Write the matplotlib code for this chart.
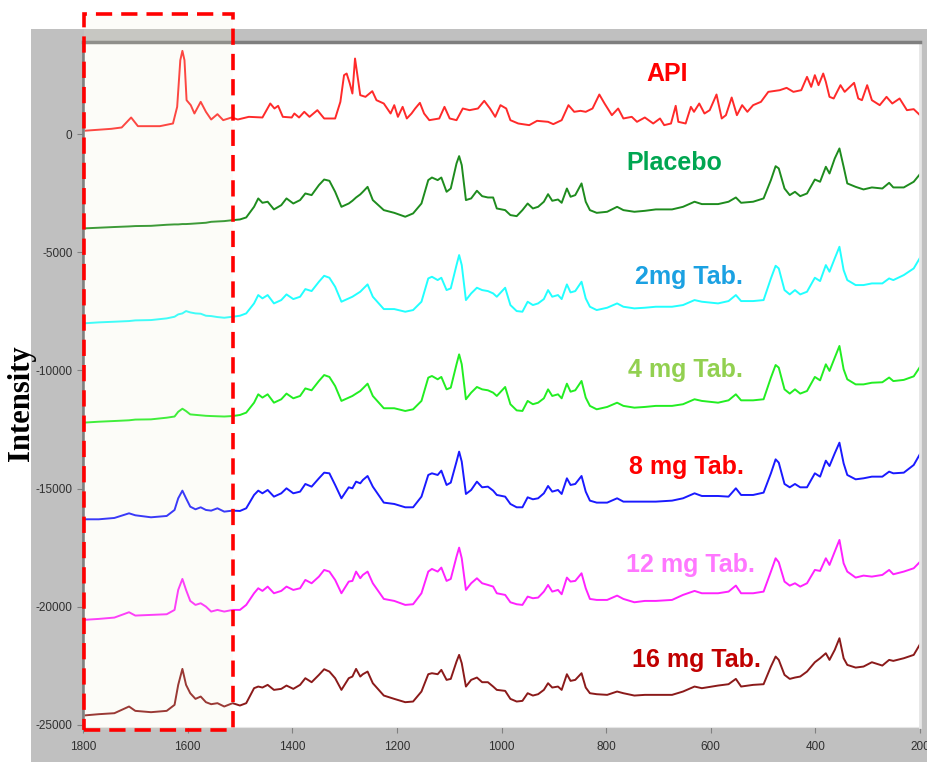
import matplotlib.pyplot as plt
from matplotlib.patches import Rectangle

plt.rcParams["axes.unicode_minus"] = False

# API spectrum (own wavenumber points)
api_wn = [1800, 1746, 1726, 1708, 1695, 1653, 1628, 1620, 1614, 1610,
          1606, 1602, 1594, 1587, 1575, 1565, 1555, 1543, 1532, 1516,
          1504, 1483, 1457, 1442, 1434, 1427, 1418, 1401, 1396, 1387,
          1377, 1367, 1352, 1339, 1318, 1308, 1301, 1296, 1290, 1285,
          1280, 1275, 1270, 1260, 1247, 1239, 1225, 1212, 1205, 1198,
          1189, 1181, 1172, 1165, 1156, 1148, 1138, 1119, 1109, 1099,
          1086, 1074, 1061, 1045, 1033, 1022, 1012, 1002, 991, 983,
          968, 947, 932, 911, 901, 885, 872, 861, 849, 839,
          826, 813, 803, 789, 777, 767, 751, 741, 726, 710,
          697, 689, 676, 667, 662, 648, 638, 632, 622, 612,
          602, 589, 579, 571, 560, 550, 540, 530, 519, 504,
          490, 468, 455, 442, 427, 416, 408, 401, 394, 385,
          380, 373, 365, 352, 344, 326, 318, 311, 301, 292,
          277, 264, 253, 239, 225, 212, 200]
api_int = [140, 225, 283, 705, 338, 338, 451, 1156, 3130, 3525,
           3130, 1438, 1227, 874, 1368, 945, 620, 846, 592, 705,
           620, 733, 705, 1297, 1086, 1199, 733, 705, 874, 705,
           945, 733, 1015, 663, 663, 1368, 2496, 2566, 2143, 1720,
           3200, 2425, 1650, 1579, 1819, 1438, 1297, 874, 1227, 733,
           1156, 663, 874, 1086, 1325, 874, 592, 663, 1156, 663,
           592, 1086, 1015, 1086, 1410, 1086, 733, 1227, 1086, 592,
           451, 381, 564, 522, 423, 592, 1227, 945, 987, 945,
           1086, 1678, 1297, 803, 1086, 663, 733, 522, 705, 451,
           663, 381, 451, 1199, 522, 451, 1156, 945, 1297, 874,
           1015, 1678, 663, 803, 1551, 803, 1227, 945, 1227, 1368,
           1790, 1861, 1960, 1790, 1861, 2425, 2002, 2496, 2073, 2566,
           2214, 1579, 1509, 2073, 1790, 2172, 1509, 1438, 2073, 1438,
           1227, 1579, 1297, 1509, 1015, 1058, 803]

# wavenumbers shared by placebo and tablet spectra
wn = [1800, 1770, 1740, 1712, 1700, 1670, 1640, 1625, 1618, 1610,
      1603, 1595, 1585, 1575, 1565, 1555, 1543, 1530, 1514, 1500,
      1488, 1473, 1465, 1457, 1447, 1435, 1421, 1411, 1398, 1385,
      1375, 1363, 1349, 1339, 1329, 1318, 1306, 1292, 1285, 1278,
      1270, 1265, 1256, 1246, 1225, 1205, 1184, 1169, 1153, 1140,
      1133, 1122, 1115, 1105, 1097, 1086, 1081, 1076, 1068, 1058,
      1047, 1037, 1026, 1016, 1009, 993, 983, 971, 960, 950,
      940, 930, 919, 911, 903, 892, 885, 875, 868, 859,
      847, 839, 831, 818, 798, 779, 767, 746, 726, 705,
      674, 653, 631, 617, 586, 566, 552, 542, 519, 499,
      485, 476, 470, 459, 449, 439, 429, 416, 401, 391,
      380, 373, 363, 354, 346, 339, 323, 308, 292, 272,
      259, 251, 231, 212, 200]

placebo = [-3990, -3960, -3930, -3905, -3890, -3880, -3835, -3820, -3820, -3805,
           -3805, -3795, -3780, -3765, -3750, -3710, -3695, -3680, -3640, -3610,
           -3525, -3075, -2720, -2905, -2860, -3185, -3005, -2720, -2935, -2790,
           -2510, -2580, -2155, -1920, -1975, -2440, -3075, -2935, -2820, -2680,
           -2550, -2440, -2230, -2790, -3215, -3330, -3495, -3355, -2935, -1945,
           -1835, -1945, -1835, -2440, -2300, -1240, -930, -1310, -2790, -2720,
           -2395, -2625, -2680, -2680, -3145, -3215, -3425, -3470, -3215, -2935,
           -3145, -3075, -2860, -2540, -2820, -2765, -2905, -2300, -2650, -2580,
           -2085, -2860, -3215, -3330, -3285, -3075, -3215, -3285, -3245, -3185,
           -3185, -3075, -2860, -2960, -2960, -2860, -2680, -2905, -2860, -2720,
           -1945, -1355, -1450, -2300, -2580, -2440, -2625, -2510, -1920, -2015,
           -1380, -1665, -1030, -605, -1380, -2085, -2230, -2340, -2255, -2300,
           -2060, -2255, -2255, -2015, -1690]

tab_2mg = [-8008, -7966, -7938, -7910, -7882, -7868, -7797, -7727, -7628, -7586,
           -7487, -7544, -7586, -7600, -7685, -7699, -7741, -7770, -7727, -7685,
           -7586, -7163, -6810, -6951, -6810, -7163, -7022, -6782, -6980, -6881,
           -6557, -6641, -6246, -5994, -6077, -6458, -7092, -6951, -6881, -6782,
           -6669, -6557, -6359, -6881, -7403, -7403, -7515, -7445, -7092, -6106,
           -6035, -6176, -6077, -6599, -6528, -5541, -5118, -5541, -7022, -6740,
           -6500, -6599, -6641, -6740, -6881, -6500, -7233, -7487, -7515, -7092,
           -7233, -7163, -6980, -6599, -6881, -6810, -6980, -6359, -6698, -6641,
           -6246, -6951, -7304, -7445, -7346, -7163, -7304, -7374, -7346, -7304,
           -7304, -7233, -7022, -7092, -7163, -7064, -6810, -7064, -7064, -7022,
           -6106, -5569, -5682, -6599, -6782, -6599, -6782, -6669, -6077, -6218,
           -5541, -5823, -5259, -4766, -5753, -6176, -6387, -6387, -6317, -6317,
           -6106, -6176, -5964, -5682, -5231]

tab_4mg = [-12210, -12170, -12140, -12110, -12080, -12070, -12000, -11950, -11750, -11620,
           -11720, -11860, -11880, -11900, -11920, -11930, -11940, -11950, -11930, -11885,
           -11785, -11365, -11010, -11150, -11010, -11365, -11220, -10980, -11180, -11080,
           -10760, -10840, -10445, -10195, -10275, -10660, -11290, -11150, -11080, -10980,
           -10870, -10760, -10560, -11080, -11600, -11600, -11715, -11645, -11290, -10305,
           -10235, -10375, -10275, -10800, -10730, -9740, -9320, -9740, -11220, -10940,
           -10700, -10800, -10840, -10940, -11080, -10700, -11430, -11690, -11715, -11290,
           -11430, -11365, -11180, -10800, -11080, -11010, -11180, -10560, -10900, -10840,
           -10445, -11150, -11500, -11645, -11545, -11365, -11500, -11575, -11545, -11500,
           -11500, -11430, -11220, -11290, -11365, -11265, -11010, -11265, -11265, -11220,
           -10305, -9770, -9880, -10800, -10980, -10800, -10980, -10870, -10275, -10420,
           -9740, -10020, -9460, -8965, -9950, -10375, -10590, -10590, -10520, -10500,
           -10300, -10450, -10400, -10250, -9850]

tab_8mg = [-16300, -16300, -16243, -16046, -16130, -16215, -16159, -15905, -15411, -15087,
           -15411, -15764, -15877, -15792, -15905, -15933, -15834, -15975, -15933, -15947,
           -15834, -15270, -15087, -15200, -15059, -15341, -15200, -14988, -15200, -15129,
           -14805, -14918, -14565, -14326, -14354, -14847, -15411, -14946, -14988, -14706,
           -14777, -14636, -14467, -14918, -15594, -15651, -15792, -15792, -15341, -14424,
           -14354, -14424, -14241, -14847, -14748, -13860, -13437, -13860, -15228, -15059,
           -14706, -14946, -14918, -15087, -15270, -15341, -15651, -15792, -15792, -15369,
           -15453, -15411, -15200, -14890, -15129, -15059, -15228, -14565, -14847, -14805,
           -14467, -15129, -15510, -15594, -15594, -15411, -15552, -15552, -15552, -15552,
           -15510, -15411, -15200, -15313, -15313, -15341, -14988, -15270, -15270, -15171,
           -14354, -13762, -13902, -14805, -14946, -14805, -14946, -14946, -14354, -14495,
           -13818, -14044, -13508, -13057, -13931, -14424, -14608, -14565, -14495, -14495,
           -14283, -14354, -14326, -14001, -13536]

tab_12mg = [-20558, -20516, -20459, -20233, -20374, -20346, -20318, -20135, -19289, -18824,
            -19289, -19754, -19923, -19853, -19994, -20205, -20135, -20205, -20135, -20135,
            -19923, -19430, -19218, -19331, -19148, -19430, -19331, -19148, -19289, -19218,
            -18866, -19007, -18725, -18443, -18513, -18866, -19430, -18936, -18908, -18513,
            -18795, -18654, -18513, -19007, -19670, -19754, -19923, -19895, -19430, -18513,
            -18400, -18513, -18344, -18908, -18824, -17879, -17499, -17949, -19289, -19007,
            -18795, -19007, -19077, -19148, -19430, -19500, -19811, -19895, -19923, -19571,
            -19641, -19613, -19360, -19077, -19360, -19289, -19472, -18767, -18936, -18908,
            -18584, -19218, -19670, -19712, -19712, -19529, -19670, -19811, -19754, -19754,
            -19712, -19500, -19331, -19430, -19430, -19360, -19106, -19430, -19430, -19360,
            -18513, -17949, -18118, -18936, -19106, -19007, -19148, -19007, -18443, -18485,
            -17949, -18231, -17668, -17174, -18161, -18513, -18767, -18683, -18725, -18654,
            -18443, -18626, -18513, -18372, -18100]

tab_16mg = [-24605, -24548, -24506, -24223, -24407, -24463, -24407, -24153, -23307, -22631,
            -23307, -23660, -23900, -23801, -24040, -24125, -24082, -24223, -24082, -24181,
            -24082, -23448, -23378, -23420, -23307, -23519, -23476, -23336, -23476, -23307,
            -23025, -23194, -22884, -22645, -22744, -23025, -23519, -23025, -22955, -22631,
            -22955, -22856, -22744, -23237, -23759, -23900, -24040, -24012, -23589, -22856,
            -22814, -22856, -22673, -23096, -23054, -22321, -22038, -22391, -23378, -23096,
            -22997, -23194, -23194, -23378, -23519, -23561, -23900, -24012, -23984, -23660,
            -23759, -23702, -23519, -23237, -23420, -23378, -23519, -22856, -23138, -23096,
            -22814, -23420, -23660, -23702, -23730, -23589, -23660, -23759, -23730, -23730,
            -23730, -23589, -23378, -23448, -23336, -23279, -23054, -23378, -23307, -23279,
            -22532, -22109, -22250, -22884, -23054, -22997, -22955, -22744, -22349, -22180,
            -21969, -22250, -21827, -21334, -22180, -22462, -22575, -22532, -22349, -22490,
            -22250, -22292, -22180, -22038, -21587]

names = ["API", "Placebo", "2mg Tab.", "4 mg Tab.", "8 mg Tab.", "12 mg Tab.", "16 mg Tab."]
x_ticks = [1800, 1600, 1400, 1200, 1000, 800, 600, 400, 200]
y_ticks = [0, -5000, -10000, -15000, -20000, -25000]

line_colors = ["#ff2a2a", "#1e8c1e", "#22ffff", "#22ee22", "#1a1aff", "#ff22ff", "#8b1a1a"]
label_colors = ["#ff0000", "#00a651", "#1ba1e2", "#92d050", "#ff0000", "#ff77ff", "#c00000"]
label_pos = [(684, 2540), (670, -1230), (642, -6050), (649, -9980),
             (647, -14090), (638, -18230), (628, -22250)]

fig = plt.figure(figsize=(9.28, 7.62), dpi=100)

# grey panel behind the plot
fig.add_artist(Rectangle((31 / 928, 0), 1 - 31 / 928, 1 - 29 / 762,
                         transform=fig.transFigure, facecolor="#c0c0c0",
                         edgecolor="none", zorder=-10))

ax = fig.add_axes([83 / 928, 1 - 727 / 762, 837 / 928, 685 / 762])
ax.set_facecolor("white")

ax.plot(api_wn, api_int, color=line_colors[0], lw=1.4)
for vals, c in zip([placebo, tab_2mg, tab_4mg, tab_8mg, tab_12mg, tab_16mg], line_colors[1:]):
    ax.plot(wn, vals, color=c, lw=1.4)

for name, c, (x, y) in zip(names, label_colors, label_pos):
    ax.text(x, y, name, color=c, fontsize=18, fontweight="bold",
            family="Liberation Sans", ha="center", va="center")

ax.set_xlim(1800, 200)
ax.set_ylim(-25090, 3900)
ax.set_xticks(x_ticks)
ax.set_yticks(y_ticks)
ax.tick_params(labelsize=8.5, labelcolor="#303030", color="#808080", length=4)
ax.tick_params(axis="x", pad=6)
for lab in ax.get_xticklabels() + ax.get_yticklabels():
    lab.set_family("Liberation Sans")

ax.spines["top"].set_color("#7f7f7f")
ax.spines["top"].set_linewidth(2.5)
ax.spines["left"].set_color("#7f7f7f")
ax.spines["left"].set_linewidth(2)
ax.spines["bottom"].set_color("#e6e6e6")
ax.spines["right"].set_color("#e6e6e6")
ax.spines["right"].set_linewidth(2)

fig.text(22 / 928, 1 - 403 / 762, "Intensity", rotation=90, fontsize=22,
         fontweight="bold", family="Liberation Serif", ha="center", va="center")

# highlighted region (dashed box)
x0, x1 = 84 / 928, 233 / 928
y0, y1 = 1 - 730 / 762, 1 - 14 / 762
fig.add_artist(Rectangle((x0, y0), x1 - x0, y1 - y0, transform=fig.transFigure,
                         facecolor="#f0f0d0", alpha=0.15, edgecolor="none", zorder=5))
fig.add_artist(Rectangle((x0, y0), x1 - x0, y1 - y0, transform=fig.transFigure,
                         facecolor="none", edgecolor="#ff0000", lw=2.6,
                         linestyle=(0, (4.5, 2.5)), zorder=6))

fig.savefig("out.png", dpi=100)
